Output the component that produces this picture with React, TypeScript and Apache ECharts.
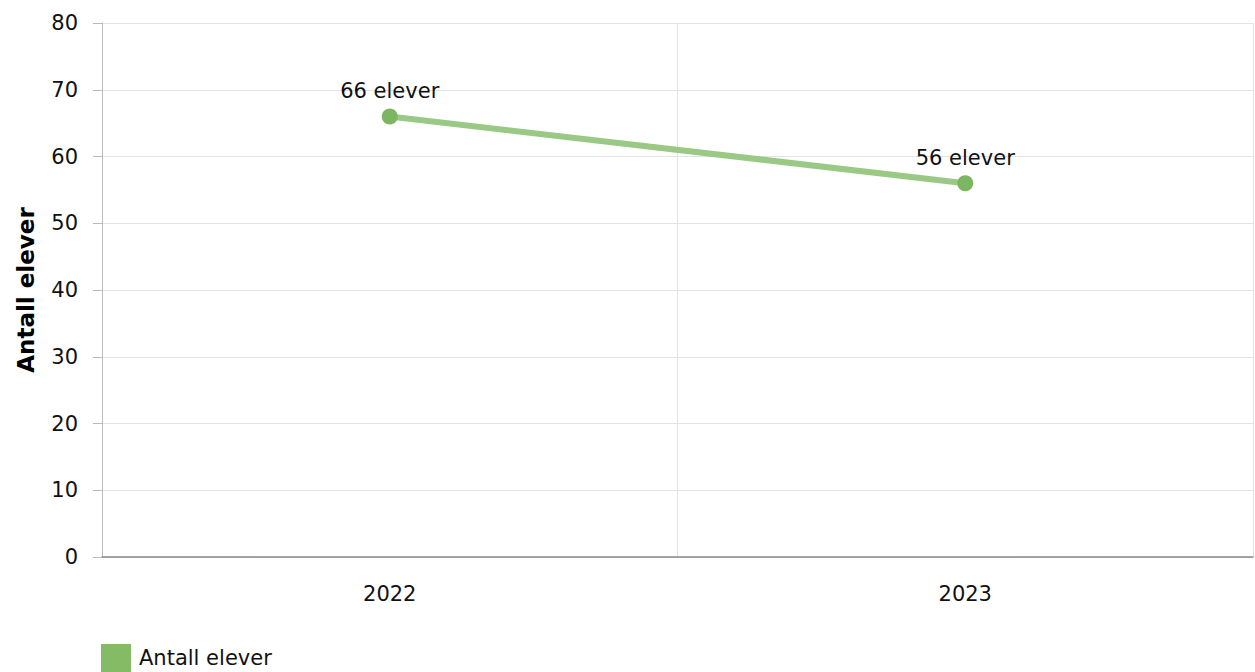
import React, { useEffect, useRef } from "react";
import * as echarts from "echarts";

const categories = ["2022", "2023"];
const values = [66, 56];
const seriesName = "Antall elever";
const yTicks = { min: 0, max: 80, interval: 10 };

export default function App() {
  const ref = useRef<HTMLDivElement>(null);
  useEffect(() => {
    const chart = echarts.init(ref.current!, undefined, { renderer: "svg" });
    const font = "Verdana, 'DejaVu Sans', sans-serif";
    chart.setOption({
      animation: false,
      textStyle: { fontFamily: font },
      grid: { left: 102, right: 2, top: 23, bottom: 115, containLabel: false },
      legend: {
        left: 96,
        top: 639,
        itemWidth: 30,
        itemHeight: 28,
        itemGap: 10,
        icon: "rect",
        textStyle: { fontSize: 21, color: "#111", fontFamily: font, padding: [10, 0, 0, 3] },
        data: [{ name: seriesName, itemStyle: { color: "#86bb66" } }],
      },
      xAxis: {
        type: "category",
        data: categories,
        boundaryGap: true,
        axisLine: { lineStyle: { color: "#888", width: 1.5 } },
        axisTick: { alignWithLabel: true, length: 9, lineStyle: { color: "#bbb" } },
        axisLabel: { fontSize: 21, color: "#111", margin: 26, fontFamily: font },
        splitLine: { show: true, lineStyle: { color: "#e3e3e3" } },
      },
      yAxis: {
        type: "value",
        min: yTicks.min,
        max: yTicks.max,
        interval: yTicks.interval,
        name: seriesName,
        nameLocation: "middle",
        nameGap: 65,
        nameTextStyle: { fontSize: 23, fontWeight: "bold", color: "#000", fontFamily: font },
        axisLine: { show: true, lineStyle: { color: "#bbb" } },
        axisTick: { show: true, length: 9, lineStyle: { color: "#bbb" } },
        axisLabel: { fontSize: 21, color: "#111", margin: 24, fontFamily: font },
        splitLine: { show: true, lineStyle: { color: "#e3e3e3" } },
      },
      series: [
        {
          name: seriesName,
          type: "line",
          data: values,
          symbol: "circle",
          symbolSize: 16,
          itemStyle: { color: "#7db660" },
          lineStyle: { color: "#9ac985", width: 6 },
          label: {
            show: true,
            position: "top",
            distance: 7,
            formatter: (p: any) => `${p.value} elever`,
            fontSize: 21,
            color: "#111",
            fontFamily: font,
          },
        },
      ],
    });
    return () => chart.dispose();
  }, []);
  return (
    <div
      ref={ref}
      style={{ position: "absolute", left: 0, top: 0, width: 1255, height: 672, background: "#fff" }}
    />
  );
}
